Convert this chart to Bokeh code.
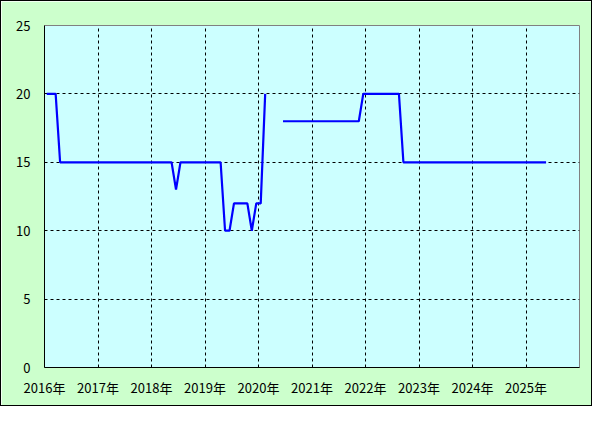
from bokeh.plotting import figure
from bokeh.models import FixedTicker, Range1d, InlineStyleSheet
from bokeh.embed import file_html
from bokeh.resources import INLINE
import numpy as np

# monthly values (Jan..Dec), None = no data
v2016 = [20, 20, 20, 15, 15, 15, 15, 15, 15, 15, 15, 15]
v2017 = [15, 15, 15, 15, 15, 15, 15, 15, 15, 15, 15, 15]
v2018 = [15, 15, 15, 15, 15, 13, 15, 15, 15, 15, 15, 15]
v2019 = [15, 15, 15, 15, 10, 10, 12, 12, 12, 12, 10, 12]
v2020 = [12, 20, None, None, None, 18, 18, 18, 18, 18, 18, 18]
v2021 = [18, 18, 18, 18, 18, 18, 18, 18, 18, 18, 18, 20]
v2022 = [20, 20, 20, 20, 20, 20, 20, 20, 15, 15, 15, 15]
v2023 = [15, 15, 15, 15, 15, 15, 15, 15, 15, 15, 15, 15]
v2024 = [15, 15, 15, 15, 15, 15, 15, 15, 15, 15, 15, 15]
v2025 = [15, 15, 15, 15, 15]

years = [2016, 2017, 2018, 2019, 2020, 2021, 2022, 2023, 2024, 2025]
yearly = [v2016, v2017, v2018, v2019, v2020, v2021, v2022, v2023, v2024, v2025]
x_tick_labels = ["2016年", "2017年", "2018年", "2019年", "2020年",
                 "2021年", "2022年", "2023年", "2024年", "2025年"]
y_ticks = [0, 5, 10, 15, 20, 25]

xs, ys = [], []
for yr, vals in zip(years, yearly):
    for m, v in enumerate(vals):
        xs.append(yr + (m + 0.5) / 12.0)
        ys.append(v)
xs = np.array(xs, dtype=float)
ys = np.array(ys, dtype=float)

p = figure(width=592, height=406, output_backend="svg", toolbar_location=None,
           x_range=Range1d(2016, 2026), y_range=Range1d(0, 25),
           min_border_left=43, min_border_right=14, min_border_top=24,
           min_border_bottom=40)
p.stylesheets = [InlineStyleSheet(css=":host { border: 1px solid black; }")]
p.border_fill_color = "#ccffcc"
p.background_fill_color = "#ccffff"
p.outline_line_color = "#808080"
p.outline_line_width = 1

p.line(xs, ys, line_color="#0000ff", line_width=2.2)

font = "Noto Sans CJK JP"
for ax in (p.xaxis[0], p.yaxis[0]):
    ax.axis_line_color = "black"
    ax.axis_line_width = 1
    ax.major_tick_line_color = None
    ax.minor_tick_line_color = None
    ax.major_label_text_font = font
    ax.major_label_text_font_size = "13px"
    ax.major_label_text_color = "black"
p.xaxis.major_label_standoff = 4
p.yaxis.major_label_standoff = 8

p.xaxis.ticker = FixedTicker(ticks=years)
p.xaxis.major_label_overrides = {y: lab for y, lab in zip(years, x_tick_labels)}
p.yaxis.ticker = FixedTicker(ticks=y_ticks)

p.xgrid.ticker = FixedTicker(ticks=years[1:])
p.ygrid.ticker = FixedTicker(ticks=y_ticks[1:-1])
for g in (p.xgrid[0], p.ygrid[0]):
    g.grid_line_color = "black"
    g.grid_line_dash = "3 3"
    g.grid_line_width = 1

open("out.html", "w").write(file_html(p, INLINE))
